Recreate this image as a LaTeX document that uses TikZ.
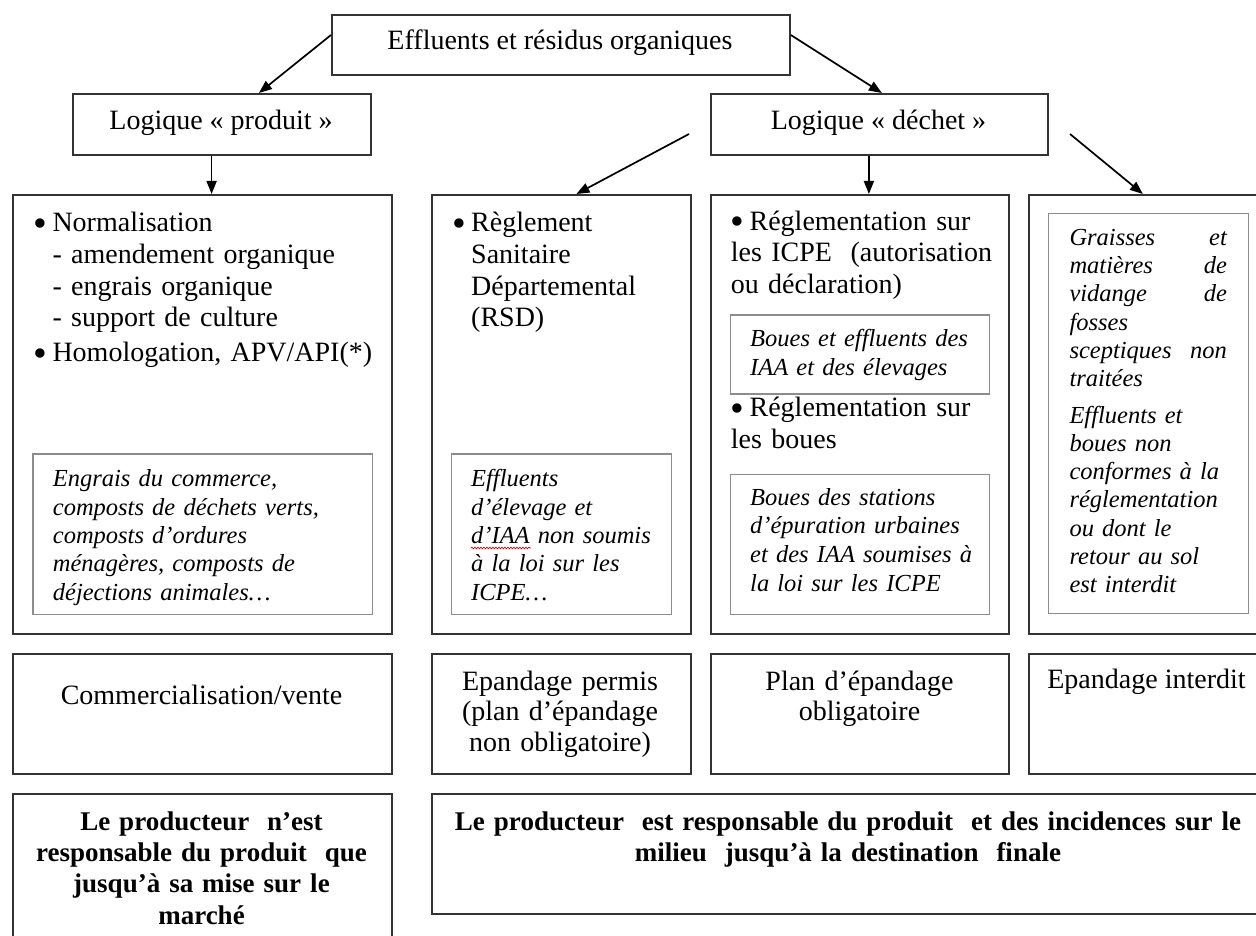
\documentclass[tikz,border=0pt]{standalone}
\usepackage{fontspec}
\setmainfont{Liberation Serif}
\usetikzlibrary{arrows.meta,calc,decorations.pathmorphing}
\newcommand\fmain{\fontsize{28}{31.7}\selectfont}
\newcommand\fital{\fontsize{24.5}{28.3}\selectfont\itshape}
\newcommand\fitalb{\fontsize{24.5}{28.8}\selectfont\itshape}
\newcommand\frow{\fontsize{28}{30.5}\selectfont}
\newcommand\fbld{\fontsize{27}{31.3}\selectfont\bfseries}
\newcommand\bigbul{\raisebox{-0.17em}{\scalebox{1.4}{\textbullet}}}
\newcommand\bul{\leavevmode\llap{\bigbul\hspace{5pt}}}
\newcommand\bx[6]{\node[#6,minimum width=#4pt,minimum height=#5pt] (#1) at (#2,#3) {};}
\begin{document}
\begin{tikzpicture}[x=1pt,y=-1pt,
  obox/.style={draw=black!80, line width=1.8pt, rectangle, inner sep=0pt, anchor=north west},
  ibox/.style={draw=black!45, line width=1.3pt, rectangle, inner sep=0pt, anchor=north west},
  arr/.style={-{Triangle[length=13pt,width=10pt]}, line width=1.7pt},
  tl/.style={inner sep=0pt, anchor=north west, align=left},
  tc/.style={inner sep=0pt, anchor=north, align=center},
  tb/.style={inner sep=0pt, anchor=base},
]
\useasboundingbox[fill=white] (0,0) rectangle (1256,936);

% ---- boxes ----
\bx{n0}{331}{14}{458}{60}{obox}
\bx{lp}{72}{93}{298}{61}{obox}
\bx{ld}{710}{93}{337}{61}{obox}
\bx{b1}{12}{194}{379}{439}{obox}
\bx{b2}{431}{194}{259}{439}{obox}
\bx{b3}{710}{194}{298}{439}{obox}
\bx{b4}{1028}{194}{237}{439}{obox}
\bx{i1}{32.3}{453.3}{339.4}{160.7}{ibox}
\bx{i2}{450.6}{453.3}{220}{160.7}{ibox}
\bx{i3a}{730}{314.3}{259}{79}{ibox}
\bx{i3b}{730}{474}{259}{140}{ibox}
\bx{i4}{1047.7}{212.7}{200}{400}{ibox}
\bx{r1a}{12}{653.3}{379}{120}{obox}
\bx{r1b}{431}{653.3}{259}{120}{obox}
\bx{r1c}{710}{653.3}{298}{120}{obox}
\bx{r1d}{1028}{653.3}{237}{120}{obox}
\bx{r2a}{12}{793.3}{379}{170}{obox}
\bx{r2b}{431}{793.3}{834}{120}{obox}

% ---- titles ----
\node[tb, font=\fmain] (t0) at (560,49.3) {Effluents et résidus organiques};
\node[tb, font=\fmain] (tlp) at (221,129.3) {Logique « produit »};
\node[tb, font=\fmain] (tld) at (878.5,129.3) {Logique « déchet »};

% ---- column 1 ----
\node[tl, font=\fmain, text width=330pt] (t1) at (52.3,209.5)
  {\strut\bul Normalisation\\
   - amendement organique\\
   - engrais organique\\
   - support de culture\\[3pt]
   \bul Homologation, APV/API(*)};
\node[tl, font=\fital, text width=315pt] (t1i) at (52.7,466.9)
  {\strut Engrais du commerce,\\
   composts de déchets verts,\\
   composts d’ordures\\
   ménagères, composts de\\
   déjections animales…};

% ---- column 2 ----
\node[tl, font=\fmain, text width=210pt] (t2) at (471,209.5)
  {\strut\bul Règlement\\ Sanitaire\\ Départemental\\ (RSD)};
\node[tl, font=\fital, text width=195pt] (t2i) at (471,466.9)
  {\strut Effluents\\ d’élevage et\\ d’IAA non soumis\\ à la loi sur les\\ ICPE…};
\draw[red!85!black, line width=0.7pt, decorate,
  decoration={snake, amplitude=0.8pt, segment length=3pt}]
  (471,548) -- (531,548);

% ---- column 3 ----
\node[tl, font=\fmain, text width=275pt] (t3a) at (730.7,207.8)
  {\strut\bigbul\hspace{5pt}Réglementation sur\\ les ICPE\ \ (autorisation\\ ou déclaration)};
\node[tl, font=\fital, text width=235pt] (t3i) at (750,326.9)
  {\strut Boues et effluents des\\ IAA et des élevages};
\node[tl, font=\fmain, text width=275pt] (t3b) at (730.7,394.5)
  {\strut\bigbul\hspace{5pt}Réglementation sur\\ les boues};
\node[tl, font=\fitalb, text width=235pt] (t3j) at (750,484.8)
  {\strut Boues des stations\\ d’épuration urbaines\\ et des IAA soumises à\\ la loi sur les ICPE};

% ---- column 4 ----
\node[tl, font=\fital, text width=157.4pt] (t4) at (1069.3,225.2)
  {\strut Graisses\hfill et\\
   matières\hfill de\\
   vidange\hfill de\\
   fosses\\
   sceptiques\hfill non\\
   traitées\\[8pt]
   Effluents et\\
   boues non\\
   conformes à la\\
   réglementation\\
   ou dont le\\
   retour au sol\\
   est interdit};

% ---- row 1 ----
\node[tb, font=\fmain] (u1) at (201.5,704) {Commercialisation/vente};
\node[tc, font=\frow, text width=259pt] (u2) at (560,668.65)
  {\strut Epandage permis\\ (plan d’épandage\\ non obligatoire)};
\node[tc, font=\frow, text width=298pt] (u3) at (859.5,668.65)
  {\strut Plan d’épandage\\ obligatoire};
\node[tb, font=\fmain] (u4) at (1146.5,688) {Epandage interdit};

% ---- row 2 ----
\node[tc, font=\fbld, text width=379pt] (v1) at (201.5,808.1)
  {\strut Le producteur\ \ n’est\\ responsable du produit\ \ que\\ jusqu’à sa mise sur le\\ marché};
\node[tc, font=\fbld, text width=830pt] (v2) at (848,808.1)
  {\strut Le producteur\ \ est responsable du produit\ \ et des incidences sur le\\ milieu\ \ jusqu’à la destination\ \ finale};

% ---- arrows ----
\coordinate (c2s) at (689,134);
\coordinate (c4s) at (1070,134);
\draw[arr] ([yshift=-21pt]n0.north west) -- ([xshift=37pt]lp.north);
\draw[arr] ([yshift=-21pt]n0.north east) -- ([xshift=2.5pt]ld.north);
\draw[arr] ([xshift=9.2pt]b1.north |- lp.south) -- ([xshift=9.2pt]b1.north);
\draw[arr] (c2s) -- ([xshift=15pt]b2.north);
\draw[arr] ([xshift=9pt]b3.north |- ld.south) -- ([xshift=9pt]b3.north);
\draw[arr] (c4s) -- ([xshift=-4.5pt]b4.north);
\end{tikzpicture}
\end{document}
